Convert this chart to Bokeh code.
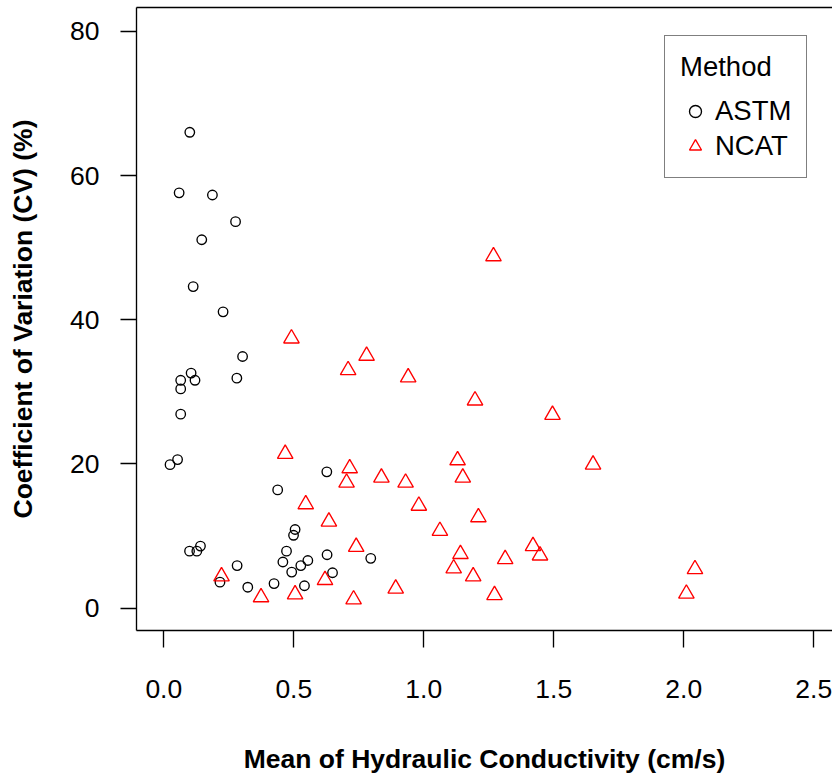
from bokeh.plotting import figure
from bokeh.models import (LinearAxis, FixedTicker, PrintfTickFormatter, Legend,
                          LegendItem, Range1d, ColumnDataSource)
from bokeh.embed import file_html
from bokeh.resources import INLINE

# ---- data ----
astm_mean = [0.100, 0.059, 0.187, 0.276, 0.146, 0.113, 0.228, 0.303, 0.105, 0.065,
             0.120, 0.281, 0.065, 0.065, 0.024, 0.053, 0.627, 0.438, 0.505, 0.499,
             0.099, 0.127, 0.141, 0.472, 0.458, 0.554, 0.527, 0.492, 0.628, 0.796,
             0.649, 0.282, 0.216, 0.323, 0.424, 0.541]
astm_cv = [66.0, 57.6, 57.3, 53.6, 51.1, 44.6, 41.1, 34.9, 32.6, 31.6,
           31.6, 31.9, 30.4, 26.9, 19.9, 20.6, 18.9, 16.4, 10.9, 10.1,
           7.9, 7.9, 8.6, 7.9, 6.4, 6.6, 5.9, 5.0, 7.4, 6.9,
           4.9, 5.9, 3.6, 2.9, 3.4, 3.1]

ncat_mean = [0.491, 0.709, 0.780, 0.467, 0.715, 0.703, 0.837, 0.930, 0.546, 0.635,
             0.740, 0.222, 0.620, 0.374, 0.505, 0.730, 0.892, 1.268, 0.940, 1.197,
             1.495, 1.130, 1.651, 1.150, 0.981, 1.062, 1.210, 1.141, 1.115, 1.190,
             1.313, 1.420, 1.447, 1.272, 2.043, 2.010]
ncat_cv = [37.4, 33.0, 35.0, 21.4, 19.4, 17.4, 18.1, 17.4, 14.4, 12.0,
           8.5, 4.4, 3.9, 1.5, 1.9, 1.2, 2.7, 48.8, 32.0, 28.8,
           26.8, 20.5, 19.9, 18.1, 14.2, 10.7, 12.6, 7.5, 5.5, 4.4,
           6.8, 8.6, 7.3, 1.8, 5.4, 2.0]

x_ticks = [0.0, 0.5, 1.0, 1.5, 2.0, 2.5]
y_ticks = [0, 20, 40, 60, 80]
methods = ["ASTM", "NCAT"]
x_title = "Mean of Hydraulic Conductivity (cm/s)"
y_title = "Coefficient of Variation (CV) (%)"
legend_title = "Method"

FONT = "Liberation Sans"
FS_TICK = "26.5px"
FS_TITLE = "26.5px"
FS_LEG = "27.5px"
LW = 1.35

p = figure(width=832, height=776, output_backend="svg", toolbar_location=None,
           x_range=Range1d(-0.105, 2.572), y_range=Range1d(-3.106, 83.31),
           x_axis_location=None, y_axis_location=None,
           min_border_left=136, min_border_right=0, min_border_top=7,
           min_border_bottom=143)
p.outline_line_color = None
p.background_fill_color = "white"
p.border_fill_color = "white"
p.xgrid.visible = False
p.ygrid.visible = False

src_a = ColumnDataSource(dict(x=astm_mean, y=astm_cv))
src_n = ColumnDataSource(dict(x=ncat_mean, y=ncat_cv))
r_a = p.scatter("x", "y", source=src_a, marker="circle", size=9.5,
                fill_color=None, line_color="black", line_width=LW)
r_n = p.scatter("x", "y", source=src_n, marker="triangle", size=15.5,
                fill_color=None, line_color="red", line_width=LW)

# left axis (box side)
ya = LinearAxis(ticker=FixedTicker(ticks=y_ticks), axis_label=y_title)
ya.major_tick_out = 16
ya.major_tick_in = 0
ya.minor_tick_out = 0
ya.minor_tick_in = 0
ya.major_tick_line_width = LW
ya.axis_line_width = LW
ya.major_label_standoff = 21
ya.major_label_text_font = FONT
ya.major_label_text_font_size = FS_TICK
ya.major_label_text_color = "black"
ya.axis_label_text_font = FONT
ya.axis_label_text_font_size = FS_TITLE
ya.axis_label_text_font_style = "bold"
ya.axis_label_text_color = "black"
ya.axis_label_standoff = 29
p.add_layout(ya, "left")

# bottom axis (box side)
xa = LinearAxis(ticker=FixedTicker(ticks=x_ticks), axis_label=x_title,
                formatter=PrintfTickFormatter(format="%.1f"))
xa.major_tick_out = 17
xa.major_tick_in = 0
xa.minor_tick_out = 0
xa.minor_tick_in = 0
xa.major_tick_line_width = LW
xa.axis_line_width = LW
xa.major_label_standoff = 32
xa.major_label_text_font = FONT
xa.major_label_text_font_size = FS_TICK
xa.major_label_text_color = "black"
xa.axis_label_text_font = FONT
xa.axis_label_text_font_size = FS_TITLE
xa.axis_label_text_font_style = "bold"
xa.axis_label_text_color = "black"
xa.axis_label_standoff = 43
p.add_layout(xa, "below")

# top side of box
ta = LinearAxis(ticker=FixedTicker(ticks=[]))
ta.major_tick_out = 0
ta.major_tick_in = 0
ta.minor_tick_out = 0
ta.minor_tick_in = 0
ta.major_label_standoff = 0
ta.axis_line_width = LW
p.add_layout(ta, "above")

legend = Legend(items=[LegendItem(label=methods[0], renderers=[r_a]),
                       LegendItem(label=methods[1], renderers=[r_n])],
                location=(528, 452), title=legend_title)
legend.title_text_font = FONT
legend.title_text_font_size = FS_LEG
legend.title_text_font_style = "normal"
legend.title_text_color = "black"
legend.title_standoff = 12
legend.label_text_font = FONT
legend.label_text_font_size = FS_LEG
legend.label_text_color = "black"
legend.padding = 15
legend.spacing = 3
legend.glyph_width = 30
legend.glyph_height = 32
legend.label_height = 32
legend.label_width = 76
legend.label_standoff = 5
legend.border_line_color = "black"
legend.border_line_width = LW
legend.background_fill_color = "white"
legend.background_fill_alpha = 1.0
legend.margin = 0
p.add_layout(legend, "center")

open("out.html", "w").write(file_html(p, INLINE))
